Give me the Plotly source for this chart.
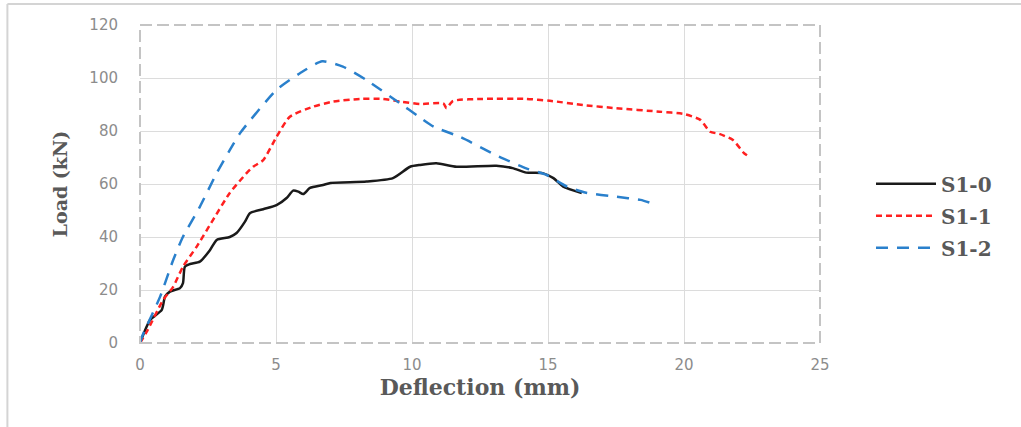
import plotly.graph_objects as go

# S1-0 (black, solid)
s10_x = [0, 0.37, 0.8, 0.92, 1.1, 1.47, 1.58, 1.65, 1.84, 2.2, 2.57, 2.82, 3.3, 3.55, 3.86, 4.04,
         4.53, 5.02, 5.39, 5.63, 5.82, 6.0, 6.25, 6.73, 7.0, 8.33, 9.3, 9.93, 10.3, 10.9, 11.64,
         13.1, 13.7, 14.2, 14.8, 15.2, 15.56, 16.24]
s10_y = [0, 8.7, 12.5, 17.5, 19.4, 20.7, 22.6, 28.8, 29.8, 30.7, 35, 38.9, 40, 41.5, 45.8, 49,
         50.5, 52, 54.7, 57.5, 57.1, 56.2, 58.5, 59.6, 60.4, 60.9, 62.2, 66.5, 67.2, 67.8, 66.5,
         66.9, 66, 64.3, 64.1, 62.2, 59, 56.6]

# S1-1 (red, short dash)
s11_x = [0, 0.25, 0.85, 1.22, 1.58, 2.08, 2.68, 3.3, 3.92, 4.16, 4.53, 5.02, 5.51, 6.37, 7.1,
         8.09, 8.93, 9.56, 10.3, 11.15, 11.27, 11.5, 12.6, 14.2, 15.07, 16.3, 17.5, 19.1, 20.0,
         20.6, 20.96, 21.3, 21.8, 22.2, 22.4]
s11_y = [0, 4.3, 16.2, 21.2, 28.8, 36.3, 46.4, 56.6, 64.1, 66.5, 69, 77.8, 85.4, 89.2, 91.1,
         92.1, 92.1, 91.1, 90.2, 90.4, 88.6, 91.3, 92.1, 92.1, 91.4, 89.8, 88.6, 87.3, 86.4,
         84.2, 79.7, 78.9, 76.6, 71.7, 70.3]

# S1-2 (blue, long dash)
s12_x = [0, 0.1, 0.74, 1.22, 1.58, 2.2, 2.82, 3.3, 3.68, 5.02, 5.88, 6.7, 7.46, 8.33, 9.56,
         10.2, 10.8, 11.76, 13.2, 14.2, 14.95, 15.7, 16.4, 17.5, 18.4, 19.0]
s12_y = [0, 3, 17.5, 31.3, 40.1, 51.4, 64.1, 72.8, 79.2, 95.5, 101.8, 106.3, 104.3, 99.2, 90.4,
         85.8, 81.6, 77.8, 70.3, 65.9, 63.4, 59, 56.7, 55.2, 54, 52.1]

x_ticks = [0, 5, 10, 15, 20, 25]
y_ticks = [0, 20, 40, 60, 80, 100, 120]

serif = "DejaVu Serif, serif"
sans = "DejaVu Sans, Verdana, sans-serif"

fig = go.Figure()
fig.add_trace(go.Scatter(x=s10_x, y=s10_y, mode="lines", name="<b>S1-0</b>", legendgroup="a",
                         line=dict(color="#1a1a1a", width=2.5, shape="spline", smoothing=0.6)))
fig.add_trace(go.Scatter(x=s11_x, y=s11_y, mode="lines", name="<b>S1-1</b>", legendgroup="b",
                         line=dict(color="#ff2020", width=2.5, dash="6px,4px", shape="spline", smoothing=0.6)))
fig.add_trace(go.Scatter(x=s12_x, y=s12_y, mode="lines", name="<b>S1-2</b>", legendgroup="c",
                         line=dict(color="#2a80cc", width=2.5, dash="12px,9px", shape="spline", smoothing=0.6)))

fig.update_layout(
    width=1021, height=427,
    margin=dict(l=140, r=201, t=25, b=84),
    paper_bgcolor="white", plot_bgcolor="white",
    showlegend=True,
    legend=dict(x=1.075, y=0.40, xanchor="left", yanchor="middle",
                font=dict(family=serif, size=20, color="#595959"),
                tracegroupgap=3, itemwidth=60, bgcolor="rgba(0,0,0,0)"),
    xaxis=dict(range=[0, 25], tickvals=x_ticks, showgrid=True, gridcolor="#dcdcdc", gridwidth=1,
               zeroline=False, showline=False, ticks="outside", ticklen=8, tickcolor="rgba(0,0,0,0)",
               tickfont=dict(family=sans, size=15, color="#8c8c8c"),
               title=dict(text="<b>Deflection (mm)</b>", font=dict(family=serif, size=22, color="#595959"),
                          standoff=2)),
    yaxis=dict(range=[0, 120], tickvals=y_ticks, showgrid=True, gridcolor="#dcdcdc", gridwidth=1,
               zeroline=False, showline=False, ticks="outside", ticklen=18, tickcolor="rgba(0,0,0,0)",
               tickfont=dict(family=sans, size=15, color="#8c8c8c"),
               title=dict(text="<b>Load (kN)</b>", font=dict(family=serif, size=19, color="#595959"),
                          standoff=16)),
    shapes=[
        dict(type="rect", xref="paper", yref="paper", x0=0, x1=1, y0=0, y1=1,
             line=dict(color="#c4c4c4", width=2, dash="12px,5px"), layer="above"),
        dict(type="line", xref="paper", yref="paper", x0=-0.195, x1=1.3, y0=1.066, y1=1.066,
             line=dict(color="#d4d4d4", width=2)),
        dict(type="line", xref="paper", yref="paper", x0=-0.195, x1=-0.195, y0=1.066, y1=-0.27,
             line=dict(color="#d4d4d4", width=2)),
    ],
)

fig.write_html("out.html")
